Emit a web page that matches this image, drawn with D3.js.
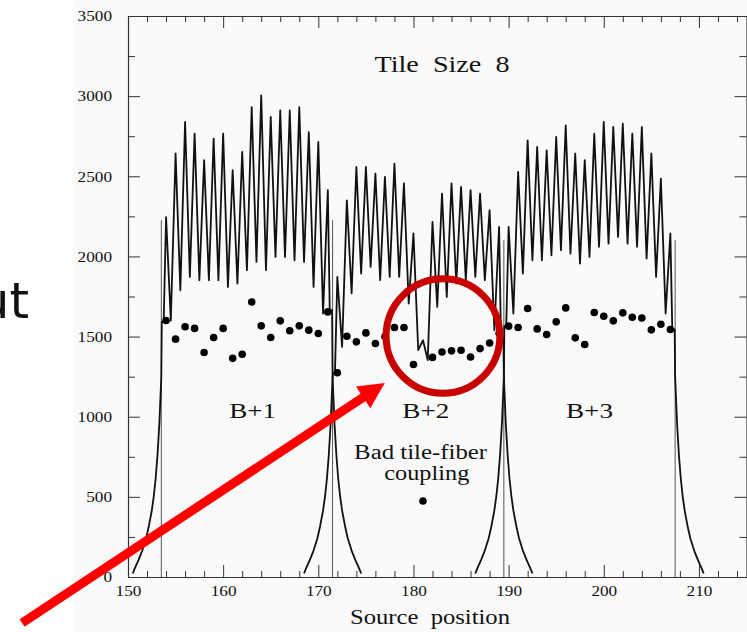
<!DOCTYPE html>
<html><head><meta charset="utf-8">
<script src="https://cdn.jsdelivr.net/npm/d3@7/dist/d3.min.js"></script>
<style>html,body{margin:0;padding:0;background:#fff;overflow:hidden}</style>
</head><body>
<svg id="c" width="747" height="632"></svg>
<script>
// ---------- data ----------
const cellLabels = ["B+1", "B+2", "B+3"];
const cellLabelX = [163.1, 181.3, 198.5];
const cellLabelY = 1000;
const cellStart = [153.5, 171.5, 189.5];
const cellEnd = [171.5, 189.5, 207.5];
const firstPeakX = [154, 172, 190];
const period = 1;
const startLevel = [1592, 1272, 1565];
const endLevel = [1665, 1480, 1545];

const peaksB1 = [2245, 2642, 2839, 2766, 2600, 2735, 2766, 2538, 2652, 2932, 3005, 2870, 2911, 2911, 2932, 2776, 2714, 2413];
const troughsB1 = [1600, 1789, 1872, 1852, 1852, 1852, 1810, 1831, 1914, 1966, 1914, 1997, 1997, 1976, 1966, 1810, 1644];
const peaksB2 = [1872, 2350, 2558, 2558, 2517, 2496, 2579, 2455, 2143, 1477, 2215, 2392, 2455, 2434, 2413, 2392, 2289, 2184];
const troughsB2 = [1436, 1770, 1893, 1935, 1852, 1872, 1872, 1706, 1415, 1353, 1685, 1747, 1831, 1852, 1872, 1852, 1540];
const peaksB3 = [2184, 2527, 2724, 2683, 2662, 2745, 2818, 2642, 2600, 2766, 2839, 2808, 2828, 2766, 2808, 2642, 2486, 2143];
const troughsB3 = [1644, 1893, 1976, 1976, 2007, 2039, 2018, 1956, 1997, 2060, 2080, 2122, 2080, 2060, 1987, 1872, 1644];

// light-leak tails outside each cell (distance from cell edge, counts)
const tailDist = [0, 0.2, 0.4, 0.6, 0.8, 1.0, 1.3, 1.6, 2.0, 2.4, 2.8, 3.0];
const tailValue = [1250, 960, 760, 610, 500, 415, 320, 240, 165, 105, 52, 22];

const boundaryX = [153.5, 171.5, 189.5, 207.5];
const boundaryTop = [2226, 2226, 2101, 2101];

// integrated response per tile (dots)
const dotsB1 = [1600, 1484, 1561, 1551, 1401, 1494, 1551, 1364, 1390, 1716, 1567, 1494, 1598, 1536, 1567, 1540, 1519, 1654];
const dotsB2 = [1274, 1502, 1467, 1523, 1457, 1500, 1557, 1557, 1326, 474, 1370, 1404, 1411, 1415, 1373, 1425, 1460, 1520];
const dotsB3 = [1565, 1557, 1675, 1548, 1513, 1592, 1679, 1492, 1451, 1650, 1627, 1598, 1648, 1621, 1616, 1542, 1577, 1544];

const xMajorTicks = [150, 160, 170, 180, 190, 200, 210];
const yMajorTicks = [0, 500, 1000, 1500, 2000, 2500, 3000, 3500];
const xDomain = [150, 215];
const yDomain = [0, 3500];

const titleText = "Tile  Size  8";
const xTitle = "Source  position";
const noteLines = ["Bad tile-fiber", "coupling"];
const noteX = [180.75, 181.4];
const sideText = "ut";

// annotation (data units)
const ringCenter = [183.1, 1503];
const ringRadius = [5.98, 357];
const arrowFrom = [138.87, -287];
const arrowTo = [176.99, 1210];

// ---------- drawing ----------
const svg = d3.select("#c");
const W = 747, H = 632;
const x = d3.scaleLinear().domain(xDomain).range([128, 746.5]);
const y = d3.scaleLinear().domain(yDomain).range([577, 16]);
const serif = "'Liberation Serif','Times New Roman',serif";

svg.append("rect").attr("x", 73).attr("y", 0).attr("width", W - 73).attr("height", H).attr("fill", "#fafafa");

// side slide text (cut at the page edge, as in the slide)
svg.append("text").attr("x", 29).attr("y", 318).attr("text-anchor", "end")
  .attr("font-family", "'DejaVu Sans',Verdana,sans-serif").attr("font-size", 50).attr("fill", "#111").text(sideText);

const axisColor = "#333";
function styleAxis(g) {
  g.select(".domain").attr("stroke", axisColor).attr("stroke-width", 1.2);
  g.selectAll(".tick line").attr("stroke", axisColor).attr("stroke-width", 1);
}
function range(a, b, s) { const r = []; for (let v = a; v <= b + 1e-9; v += s) r.push(+v.toFixed(6)); return r; }
const xMinor = range(xDomain[0], xDomain[1], 2).filter(v => !xMajorTicks.includes(v));
const yMinor = range(0, 3500, 250).filter(v => !yMajorTicks.includes(v));

// bottom axis
const gB = svg.append("g").attr("transform", `translate(0,${y(0)})`)
  .call(d3.axisBottom(x).tickValues(xMajorTicks).tickSizeInner(-12).tickSizeOuter(0).tickPadding(8).tickFormat(d3.format("d")));
styleAxis(gB);
svg.append("g").attr("transform", `translate(0,${y(0)})`)
  .call(d3.axisBottom(x).tickValues(xMinor).tickSizeInner(-6).tickSizeOuter(0).tickFormat(""))
  .call(g => { g.select(".domain").remove(); g.selectAll("line").attr("stroke", axisColor); });
// top axis
const gT = svg.append("g").attr("transform", `translate(0,${y(3500)})`)
  .call(d3.axisTop(x).tickValues(xMajorTicks).tickSizeInner(-12).tickSizeOuter(0).tickFormat(""));
styleAxis(gT);
svg.append("g").attr("transform", `translate(0,${y(3500)})`)
  .call(d3.axisTop(x).tickValues(xMinor).tickSizeInner(-6).tickSizeOuter(0).tickFormat(""))
  .call(g => { g.select(".domain").remove(); g.selectAll("line").attr("stroke", axisColor); });
// left axis
const gL = svg.append("g").attr("transform", `translate(${x(150)},0)`)
  .call(d3.axisLeft(y).tickValues(yMajorTicks).tickSizeInner(-12).tickSizeOuter(0).tickPadding(16).tickFormat(d3.format("d")));
styleAxis(gL);
svg.append("g").attr("transform", `translate(${x(150)},0)`)
  .call(d3.axisLeft(y).tickValues(yMinor).tickSizeInner(-7).tickSizeOuter(0).tickFormat(""))
  .call(g => { g.select(".domain").remove(); g.selectAll("line").attr("stroke", axisColor); });
// right axis
const gR = svg.append("g").attr("transform", `translate(${x(215)},0)`)
  .call(d3.axisRight(y).tickValues(yMajorTicks).tickSizeInner(-12).tickSizeOuter(0).tickFormat(""));
styleAxis(gR);
svg.append("g").attr("transform", `translate(${x(215)},0)`)
  .call(d3.axisRight(y).tickValues(yMinor).tickSizeInner(-7).tickSizeOuter(0).tickFormat(""))
  .call(g => { g.select(".domain").remove(); g.selectAll("line").attr("stroke", axisColor); });

[gB, gL].forEach(g => g.selectAll(".tick text")
  .attr("font-family", serif).attr("font-size", 15).attr("fill", "#111")
  .each(function () { const t = d3.select(this); t.attr("textLength", t.text().length * 8.6).attr("lengthAdjust", "spacingAndGlyphs"); }));

// boundary reference lines
svg.append("g").selectAll("line").data(boundaryX).join("line")
  .attr("x1", d => x(d)).attr("x2", d => x(d))
  .attr("y1", y(0)).attr("y2", (d, i) => y(boundaryTop[i]))
  .attr("stroke", "#555").attr("stroke-width", 1);

// scan traces
const peaks = [peaksB1, peaksB2, peaksB3];
const troughs = [troughsB1, troughsB2, troughsB3];
function runPoints(i) {
  const pts = [];
  const s = cellStart[i], e = cellEnd[i];
  for (let k = tailDist.length - 1; k >= 0; k--) pts.push([s - tailDist[k], tailValue[k]]);
  pts.push([s + 0.05, startLevel[i]]);
  pts.push([firstPeakX[i] - 0.25, startLevel[i]]);
  const P = peaks[i], T = troughs[i];
  P.forEach((v, k) => {
    pts.push([firstPeakX[i] + k * period, v]);
    if (k < T.length) pts.push([firstPeakX[i] + (k + 0.5) * period, T[k]]);
  });
  const last = firstPeakX[i] + (P.length - 1) * period;
  pts.push([last + 0.2, endLevel[i]]);
  pts.push([e - 0.05, endLevel[i]]);
  for (let k = 0; k < tailDist.length; k++) pts.push([e + tailDist[k], tailValue[k]]);
  return pts;
}
const line = d3.line().x(d => x(d[0])).y(d => y(d[1]));
svg.append("g").selectAll("path").data(cellLabels.map((c, i) => runPoints(i))).join("path")
  .attr("d", line).attr("fill", "none").attr("stroke", "#111").attr("stroke-width", 1.8).attr("stroke-linejoin", "round");

// dots
const dots = [dotsB1, dotsB2, dotsB3];
const dotData = [];
dots.forEach((arr, i) => arr.forEach((v, k) => dotData.push([firstPeakX[i] + k * period, v])));
svg.append("g").selectAll("circle").data(dotData).join("circle")
  .attr("cx", d => x(d[0])).attr("cy", d => y(d[1])).attr("r", 3.8).attr("fill", "#000");

// texts
function stretchText(txt, cx, cy, size, len) {
  svg.append("text").attr("x", cx).attr("y", cy).attr("text-anchor", "middle")
    .attr("font-family", serif).attr("font-size", size).attr("fill", "#111")
    .style("white-space", "pre").attr("textLength", len).attr("lengthAdjust", "spacingAndGlyphs").text(txt);
}
stretchText(titleText, 442, 72, 23, 135);
cellLabels.forEach((c, i) => stretchText(c, x(cellLabelX[i]), y(cellLabelY) + 1, 22, 47));
stretchText(noteLines[0], x(noteX[0]), 459, 20, 133);
stretchText(noteLines[1], x(noteX[1]), 480, 20, 85);
stretchText(xTitle, 430, 624, 20, 160);

// annotation ring and arrow
svg.append("ellipse").attr("cx", x(ringCenter[0])).attr("cy", y(ringCenter[1]))
  .attr("rx", x(ringCenter[0] + ringRadius[0]) - x(ringCenter[0]))
  .attr("ry", y(ringCenter[1]) - y(ringCenter[1] + ringRadius[1]))
  .attr("fill", "none").attr("stroke", "#c80000").attr("stroke-width", 7);

const ax0 = x(arrowFrom[0]), ay0 = y(arrowFrom[1]), ax1 = x(arrowTo[0]), ay1 = y(arrowTo[1]);
const ang = Math.atan2(ay1 - ay0, ax1 - ax0);
const headLen = 26, headHalf = 13;
const bx = ax1 - headLen * Math.cos(ang), by = ay1 - headLen * Math.sin(ang);
svg.append("line").attr("x1", ax0).attr("y1", ay0).attr("x2", bx + 2 * Math.cos(ang)).attr("y2", by + 2 * Math.sin(ang))
  .attr("stroke", "#ff0000").attr("stroke-width", 9);
svg.append("polygon").attr("fill", "#ff0000").attr("points", [
  [ax1, ay1],
  [bx + headHalf * Math.sin(ang), by - headHalf * Math.cos(ang)],
  [bx - headHalf * Math.sin(ang), by + headHalf * Math.cos(ang)]
].map(p => p.join(",")).join(" "));
</script>
</body></html>
